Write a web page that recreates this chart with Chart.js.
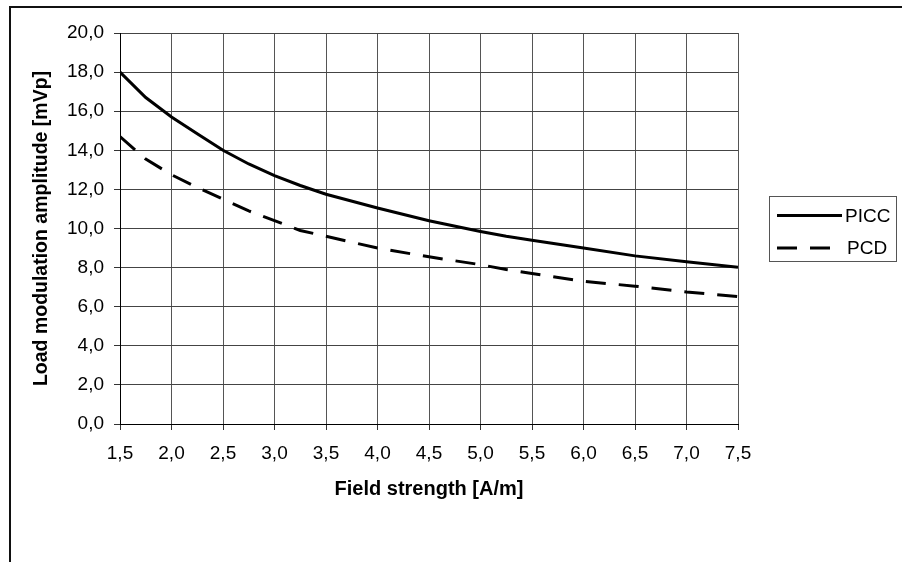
<!DOCTYPE html>
<html>
<head>
<meta charset="utf-8">
<script src="https://cdn.jsdelivr.net/npm/chart.js@4.4.1/dist/chart.umd.min.js"></script>
<style>
  html, body { margin: 0; padding: 0; background: #fff; }
  #wrap { width: 902px; height: 562px; }
</style>
</head>
<body>
<div id="wrap"><canvas id="lmChart" width="902" height="562"></canvas></div>
<script>
// field strength [A/m] and load modulation amplitude [mVp]
var piccX = [1.5, 1.75, 2.0, 2.25, 2.5, 2.75, 3.0, 3.25, 3.5, 4.0, 4.5, 5.0, 5.25, 5.5, 6.0, 6.5, 7.0, 7.5];
var piccY = [18.0, 16.7, 15.7, 14.85, 14.0, 13.3, 12.7, 12.2, 11.75, 11.05, 10.4, 9.85, 9.6, 9.4, 9.0, 8.6, 8.3, 8.02];
var pcdX = [1.5, 1.75, 2.0, 2.25, 2.5, 2.75, 3.0, 3.25, 3.5, 4.0, 4.5, 5.0, 5.25, 5.5, 6.0, 6.5, 7.0, 7.5];
var pcdY = [14.7, 13.55, 12.75, 12.1, 11.5, 10.9, 10.4, 9.9, 9.6, 9.0, 8.55, 8.15, 7.9, 7.7, 7.3, 7.05, 6.75, 6.52];
var seriesNames = ['PICC', 'PCD'];

function pts(xs, ys) {
    return xs.map(function (x, i) { return { x: x, y: ys[i] }; });
}
function comma(v) {
    return v.toFixed(1).replace('.', ',');
}

var FONT = "'Liberation Sans', Arial, sans-serif";

// white page, frame lines (top + left) and the boxed legend
var framePlugin = {
    id: 'frame',
    beforeDraw: function (chart) {
        var c = chart.ctx;
        c.save();
        c.fillStyle = '#fff';
        c.fillRect(0, 0, chart.width, chart.height);
        c.strokeStyle = '#111';
        c.lineWidth = 2;
        c.beginPath();
        c.moveTo(902, 7);
        c.lineTo(10, 7);
        c.lineTo(10, 562);
        c.stroke();
        c.restore();
    },
    afterDraw: function (chart) {
        var c = chart.ctx;
        c.save();
        c.strokeStyle = '#555';
        c.lineWidth = 1;
        c.strokeRect(769.5, 196.5, 127, 65);
        var rows = [215.5, 248];
        chart.data.datasets.forEach(function (ds, i) {
            c.strokeStyle = ds.borderColor;
            c.lineWidth = 3;
            c.setLineDash(ds.borderDash || []);
            c.beginPath();
            c.moveTo(777, rows[i]);
            c.lineTo(842, rows[i]);
            c.stroke();
            c.setLineDash([]);
            c.fillStyle = '#000';
            c.font = '19px ' + FONT;
            c.textBaseline = 'middle';
            c.fillText(ds.label, i === 0 ? 845 : 847, rows[i] + 1);
        });
        c.restore();
    }
};

var ctx = document.getElementById('lmChart').getContext('2d');
new Chart(ctx, {
    type: 'line',
    data: {
        datasets: [{
            label: seriesNames[0],
            data: pts(piccX, piccY),
            borderColor: '#000',
            borderWidth: 3,
            pointRadius: 0,
            tension: 0
        },
        {
            label: seriesNames[1],
            data: pts(pcdX, pcdY),
            borderColor: '#000',
            borderWidth: 3,
            borderDash: [20, 13],
            pointRadius: 0,
            tension: 0
        }]
    },
    options: {
        responsive: false,
        animation: false,
        layout: { padding: { left: 0, top: 33, right: 164, bottom: 0 } },
        plugins: {
            legend: { display: false },
            tooltip: { enabled: false }
        },
        scales: {
            x: {
                type: 'linear',
                min: 1.5,
                max: 7.5,
                afterFit: function (s) { s.height = 138; },
                ticks: {
                    stepSize: 0.5,
                    padding: 12,
                    color: '#000',
                    font: { family: FONT, size: 19 },
                    callback: function (v) { return comma(v); }
                },
                grid: { color: '#555', tickLength: 6, tickColor: '#333' },
                border: { color: '#000', width: 1 },
                title: {
                    display: true,
                    text: 'Field strength [A/m]',
                    color: '#000',
                    font: { family: FONT, size: 20, weight: 'bold' },
                    padding: { top: 0, bottom: 61 }
                }
            },
            y: {
                min: 0,
                max: 20,
                afterFit: function (s) { s.width = 120; },
                ticks: {
                    stepSize: 2,
                    padding: 10,
                    color: '#000',
                    font: { family: FONT, size: 19 },
                    callback: function (v) { return comma(v); }
                },
                grid: { color: '#444', tickLength: 6, tickColor: '#333' },
                border: { color: '#000', width: 1 },
                title: {
                    display: true,
                    text: 'Load modulation amplitude [mVp]',
                    color: '#000',
                    font: { family: FONT, size: 19.5, weight: 'bold' },
                    padding: { top: 30, bottom: 0 }
                }
            }
        }
    },
    plugins: [framePlugin]
});
</script>
</body>
</html>
